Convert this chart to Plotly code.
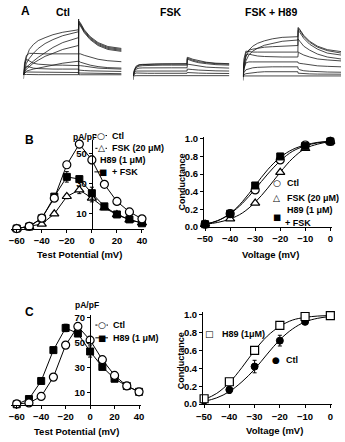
import plotly.graph_objects as go

W, H = 345, 442
FONT = "Liberation Sans, Arial, sans-serif"
SYM = "DejaVu Sans"

# ---------------- Panel A: current traces (time index, amplitude) ----------------
a_time = [0, 1, 3, 6, 10, 15, 22, 30, 40, 56, 56.2, 56.5, 58, 62, 68, 76, 86, 100]
a_ctl = [
    [-4, 8, 18, 26, 31, 35, 38, 41, 43.5, 46, 55, 55, 53, 46, 39, 33, 29, 27],
    [0, 6, 12, 17, 22, 27, 32, 36, 40, 44, 54, 54, 52, 45, 38, 32, 28, 26],
    [0, 4, 8, 11, 14, 18, 23, 28, 33, 38, 53, 53, 51, 44, 37, 31, 27, 25],
    [0, 3, 6, 9, 12, 15, 19, 22, 26, 30, 52, 52, 50, 43, 36, 30, 26, 24],
    [0, 12, 20, 22, 22, 21.5, 21.5, 21.5, 21.5, 21.5, 22, 22, 21.5, 20, 18, 16, 14.5, 13.5],
    [0, 2, 4, 5, 6, 7, 8.5, 10, 12, 14, 14, 14, 13, 11.5, 10, 8.5, 7.5, 7],
    [0, 10, 16, 14, 12, 11, 10.5, 10, 10, 10, 10, 10, 9.5, 9, 8, 7, 6.5, 6],
    [0, 6, 9, 8, 7, 6.5, 6, 6, 6, 6, 5, 5, 4.8, 4.5, 4.2, 4, 3.8, 3.6],
    [0, 2, 3, 3, 2.8, 2.6, 2.5, 2.5, 2.5, 2.5, 2, 2, 1.9, 1.8, 1.6, 1.5, 1.4, 1.3],
    [0, 0.5, 0.5, 0.3, 0.3, 0.3, 0.3, 0.3, 0.3, 0.3, 57, 0.2, 0.2, 0.2, 0.2, 0.2, 0.2, 0.2],
]
a_fsk = [
    [-4, 5, 9, 11, 11.5, 12, 12.2, 12.4, 12.5, 12.6, 19, 19, 18.5, 17, 15.5, 14, 13, 12.5],
    [0, 5, 8.5, 10, 10.5, 10.8, 11, 11, 11, 11, 17, 17, 16.5, 15, 13.5, 12.5, 11.5, 11],
    [0, 6, 10, 11.5, 11.8, 12, 12, 12, 12, 12, 18, 18, 17.5, 16, 14.5, 13.5, 12.5, 12],
    [0, 4, 7, 8, 8.2, 8.3, 8.3, 8.3, 8.3, 8.3, 12, 12, 11.8, 11, 10, 9, 8.5, 8],
    [0, 3, 5, 5, 5, 5, 5, 5, 5, 5, 7, 7, 6.8, 6.5, 6, 5.5, 5.2, 5],
    [0, 2, 3, 2.8, 2.7, 2.7, 2.7, 2.7, 2.7, 2.7, 3.5, 3.5, 3.3, 3.1, 2.9, 2.7, 2.6, 2.5],
    [0, 0.3, 0.3, 0.3, 0.3, 0.3, 0.3, 0.3, 0.3, 0.3, 0.3, 0.3, 0.3, 0.3, 0.3, 0.3, 0.3, 0.3],
]
a_h89 = [
    [-4, 10, 20, 27, 31, 34, 36.5, 38.5, 40, 40.7, 50, 50, 48, 42, 36, 31, 27.5, 25.5],
    [0, 8, 16, 22, 26, 29, 32, 34, 36, 37.3, 49, 49, 47, 41, 35, 30, 26.5, 24],
    [0, 14, 24, 27, 28, 29, 30, 30.5, 31, 31.7, 47, 47, 45, 39, 33, 28, 24, 22],
    [0, 18, 26, 25.5, 25, 25, 25, 25, 25, 25, 38, 38, 36, 31, 27, 23, 20, 18],
    [0, 12, 22, 23, 22, 21, 20.5, 20, 20, 20, 25, 25, 24, 22, 20, 18, 17, 16],
    [0, 8, 14, 15, 15, 15, 15, 15, 15, 15, 14, 14, 13.5, 13, 12, 11, 10.5, 10],
    [0, 4, 7, 8, 9, 9.5, 10, 10, 10, 10, 8, 8, 7, 6, 5.5, 5, 4.7, 4.5],
    [0, 2, 3, 3.5, 4, 4.5, 5, 5, 5, 5, 3.5, 3.5, 3, 3, 2.8, 2.6, 2.5, 2.5],
    [0, 0.7, 0.7, 0.7, 0.7, 0.7, 0.7, 0.7, 0.7, 0.7, 0.7, 0.7, 0.7, 0.7, 0.7, 0.7, 0.7, 0.7],
]

# ---------------- Panel B ----------------
iv_v = [-60, -50, -40, -30, -20, -10, 0, 10, 20, 30, 40]
b_ctl = [0.2, 1.7, 7.2, 20.5, 42.8, 56.6, 46.0, 29.7, 18.3, 11.3, 6.7]
b_ctl_err = [0, 0, 0.5, 1.0, 2.0, 2.5, 2.5, 1.0, 0.5, 0.5, 0.5]
b_fsk = [0.2, 1.5, 3.2, 10.0, 21.6, 26.0, 20.5, 14.0, 9.5, 6.0, 4.0]
b_fsk_err = [0, 0, 0.5, 1.0, 1.5, 2.5, 2.5, 1.0, 0.5, 0.5, 0.5]
b_h89 = [0.2, 1.5, 7.0, 21.5, 34.7, 33.2, 23.8, 15.0, 9.6, 6.3, 3.7]
b_h89_err = [0, 0, 0.5, 1.0, 3.5, 2.0, 4.0, 1.0, 0.5, 0.5, 0.5]

g_v = [-50, -40, -30, -20, -10, 0]
gb_ctl = [0.03, 0.15, 0.42, 0.76, 0.93, 0.97]
gb_fsk = [0.03, 0.09, 0.27, 0.62, 0.89, 0.97]
gb_h89 = [0.03, 0.15, 0.47, 0.80, 0.92, 0.97]
fit_v = [-50, -45, -40, -35, -30, -25, -20, -15, -10, -5, 0]
fitb_ctl = [0.03, 0.07, 0.15, 0.27, 0.43, 0.60, 0.75, 0.86, 0.92, 0.955, 0.97]
fitb_fsk = [0.03, 0.05, 0.09, 0.16, 0.28, 0.44, 0.62, 0.78, 0.89, 0.94, 0.97]
fitb_h89 = [0.03, 0.07, 0.15, 0.29, 0.47, 0.65, 0.79, 0.88, 0.93, 0.96, 0.97]

# ---------------- Panel C ----------------
c_ctl = [0.8, 1.6, 6.8, 22.3, 48.0, 63.0, 52.0, 36.3, 23.7, 15.2, 10.5]
c_ctl_err = [0, 0, 0.5, 1.0, 2.0, 2.0, 2.0, 1.0, 1.0, 0.5, 0.5]
c_h89 = [0.5, 4.7, 19.2, 44.0, 61.8, 57.3, 42.9, 30.5, 21.0, 15.2, 10.5]
c_h89_err = [0, 0.5, 1.0, 2.0, 3.0, 2.0, 4.5, 2.0, 1.0, 0.5, 0.5]

gc_h89 = [0.06, 0.25, 0.60, 0.88, 0.98, 0.99]
gc_h89_err = [0, 0.02, 0.02, 0.02, 0.01, 0]
gc_ctl = [0.04, 0.16, 0.42, 0.71, 0.92, 0.99]
gc_ctl_err = [0, 0.04, 0.07, 0.06, 0.03, 0]
fitc_h89 = [0.05, 0.12, 0.24, 0.41, 0.60, 0.76, 0.87, 0.94, 0.97, 0.985, 0.99]
fitc_ctl = [0.03, 0.07, 0.14, 0.25, 0.39, 0.56, 0.72, 0.84, 0.92, 0.96, 0.98]


def px_x(a, b):
    return [a / W, b / W]


def px_y(top, bottom):
    return [1 - bottom / H, 1 - top / H]


fig = go.Figure()

OPEN_CIRCLE = dict(symbol="circle", size=8, color="white", line=dict(color="black", width=1.2))
OPEN_TRI = dict(symbol="triangle-up", size=8, color="white", line=dict(color="black", width=1.2))
FILL_SQ = dict(symbol="square", size=7, color="black", line=dict(color="black", width=1))
OPEN_SQ = dict(symbol="square", size=8, color="white", line=dict(color="black", width=1.2))
FILL_CIRCLE = dict(symbol="circle", size=7, color="black", line=dict(color="black", width=1))


def err(arr):
    return dict(type="data", array=arr, visible=True, color="black", thickness=1, width=2)


# Panel A traces
for xa, ya, traces in (("x7", "y7", a_ctl), ("x8", "y8", a_fsk), ("x9", "y9", a_h89)):
    for tr in traces:
        fig.add_trace(go.Scatter(x=a_time, y=tr, mode="lines", xaxis=xa, yaxis=ya,
                                 line=dict(color="#1a1a1a", width=0.8), showlegend=False,
                                 hoverinfo="skip"))

# Panel B left
for ys, e, mk in ((b_fsk, b_fsk_err, OPEN_TRI), (b_h89, b_h89_err, FILL_SQ), (b_ctl, b_ctl_err, OPEN_CIRCLE)):
    fig.add_trace(go.Scatter(x=iv_v, y=ys, mode="lines+markers", xaxis="x", yaxis="y",
                             line=dict(color="black", width=1), marker=mk, error_y=err(e),
                             cliponaxis=False, showlegend=False))

# Panel B right
for fy in (fitb_ctl, fitb_fsk, fitb_h89):
    fig.add_trace(go.Scatter(x=fit_v, y=fy, mode="lines", xaxis="x2", yaxis="y2",
                             line=dict(color="black", width=1, shape="spline"), showlegend=False))
for ys, mk in ((gb_fsk, OPEN_TRI), (gb_ctl, OPEN_CIRCLE), (gb_h89, FILL_SQ)):
    fig.add_trace(go.Scatter(x=g_v, y=ys, mode="markers", xaxis="x2", yaxis="y2",
                             marker=mk, cliponaxis=False, showlegend=False))

# Panel C left
for ys, e, mk in ((c_h89, c_h89_err, FILL_SQ), (c_ctl, c_ctl_err, OPEN_CIRCLE)):
    fig.add_trace(go.Scatter(x=iv_v, y=ys, mode="lines+markers", xaxis="x3", yaxis="y3",
                             line=dict(color="black", width=1), marker=mk, error_y=err(e),
                             cliponaxis=False, showlegend=False))

# Panel C right
for fy in (fitc_h89, fitc_ctl):
    fig.add_trace(go.Scatter(x=fit_v, y=fy, mode="lines", xaxis="x4", yaxis="y4",
                             line=dict(color="black", width=1, shape="spline"), showlegend=False))
fig.add_trace(go.Scatter(x=g_v, y=gc_ctl, mode="markers", xaxis="x4", yaxis="y4",
                         marker=FILL_CIRCLE, error_y=err(gc_ctl_err), cliponaxis=False, showlegend=False))
fig.add_trace(go.Scatter(x=g_v, y=gc_h89, mode="markers", xaxis="x4", yaxis="y4",
                         marker=OPEN_SQ, error_y=err(gc_h89_err), cliponaxis=False, showlegend=False))

TICKFONT = dict(family=FONT, size=9.5, color="black", weight="bold")
AX = dict(showgrid=False, zeroline=False, showline=True, linecolor="black", linewidth=1.3,
          ticks="outside", ticklen=3, tickwidth=1, tickcolor="black", tickfont=TICKFONT)
HID = dict(visible=False, showgrid=False, zeroline=False)

layout = dict(
    width=W, height=H, margin=dict(l=0, r=0, t=0, b=0),
    paper_bgcolor="white", plot_bgcolor="rgba(0,0,0,0)", showlegend=False,
    # B left
    xaxis=dict(AX, domain=px_x(4, 141), range=[-64.65, 41.55], anchor="y",
               tickvals=[-60, -40, -20, 0, 20, 40]),
    yaxis=dict(AX, domain=px_y(140, 230), range=[0, 59], anchor="free", position=87.4 / W,
               tickvals=[10, 30, 50]),
    # B right
    xaxis2=dict(AX, domain=px_x(203, 335), range=[-50.39, 0.78], anchor="y2",
                tickvals=[-50, -40, -30, -20, -10, 0]),
    yaxis2=dict(AX, domain=px_y(136, 228), range=[0, 1.026], anchor="x2",
                tickvals=[0, 0.2, 0.4, 0.6, 0.8, 1.0], tickformat=".1f"),
    # C left
    xaxis3=dict(AX, domain=px_x(4, 138), range=[-64.76, 41.6], anchor="y3",
                tickvals=[-60, -40, -20, 0, 20, 40]),
    yaxis3=dict(AX, domain=px_y(318, 409.3), range=[0, 72], anchor="free", position=85.6 / W,
                tickvals=[10, 30, 50, 70]),
    # C right
    xaxis4=dict(AX, domain=px_x(202, 335), range=[-50.38, 0.77], anchor="y4",
                tickvals=[-50, -40, -30, -20, -10, 0]),
    yaxis4=dict(AX, domain=px_y(315, 408.5), range=[0, 1.027], anchor="x4",
                tickvals=[0, 0.2, 0.4, 0.6, 0.8, 1.0], tickformat=".1f"),
    # A
    xaxis7=dict(HID, domain=px_x(17, 118), range=[0, 100], anchor="y7"),
    yaxis7=dict(HID, domain=px_y(12, 79.8), range=[-6.5, 61.3], anchor="x7"),
    xaxis8=dict(HID, domain=px_x(130, 229), range=[0, 100], anchor="y8"),
    yaxis8=dict(HID, domain=px_y(12, 80.8), range=[-6.5, 62.3], anchor="x8"),
    xaxis9=dict(HID, domain=px_x(243, 344), range=[0, 100], anchor="y9"),
    yaxis9=dict(HID, domain=px_y(12, 81.5), range=[-6.5, 63.0], anchor="x9"),
)
fig.update_layout(**layout)

annotations = []
shapes = []


def txt(x, y, s, size=9, xanchor="center", angle=0, family=FONT, bold=True, bg=None):
    d = dict(x=x / W, y=1 - y / H, xref="paper", yref="paper", text=s, showarrow=False,
             xanchor=xanchor, yanchor="middle", textangle=angle,
             font=dict(family=family, size=size, color="black", weight="bold" if bold else "normal"))
    if bg:
        d.update(bgcolor=bg, borderpad=0)
    annotations.append(d)


def line_px(x0, x1, y):
    shapes.append(dict(type="line", xref="paper", yref="paper", x0=x0 / W, x1=x1 / W,
                       y0=1 - y / H, y1=1 - y / H, line=dict(color="black", width=1)))


SQ_SPAN = "<span style='font-family:DejaVu Sans;font-weight:normal;font-size:8.5px'>■</span>"

# Panel A labels
txt(19, 8, "A", size=12)
txt(58, 9, "Ctl", size=10.5)
txt(168, 9, "FSK", size=10.5)
txt(272, 9, "FSK + H89", size=10.5)

# Panel B left
txt(23, 140, "B", size=12)
txt(80, 136, "pA/pF", size=8.5)
txt(75, 256, "Test Potential (mV)", size=9.5)
line_px(91, 103, 135)
txt(97, 135, "○", size=9, family=SYM, bold=False, bg="white")
txt(106, 135, "Ctl", xanchor="left")
line_px(91, 103, 148)
txt(97, 148, "△", size=9, family=SYM, bold=False, bg="white")
txt(106, 148, "FSK (20 μM)", xanchor="left")
txt(94, 160, "H89 (1 μM)", xanchor="left")
line_px(90, 102, 172)
txt(93, 172, SQ_SPAN + "  + FSK", xanchor="left")

# Panel B right
txt(180, 182, "Conductance", size=9, angle=-90)
txt(271, 256, "Voltage (mV)", size=9.5)
txt(278, 183, "○", size=9, family=SYM, bold=False)
txt(286, 183, "Ctl", xanchor="left")
txt(278, 199, "△", size=9, family=SYM, bold=False)
txt(286, 199, "FSK (20 μM)", xanchor="left")
txt(286, 211, "H89 (1 μM)", xanchor="left")
txt(278, 218, "■", size=8.5, family=SYM, bold=False)
txt(284, 224, "+ FSK", xanchor="left")

# Panel C left
txt(23, 315, "C", size=12)
txt(82, 308, "pA/pF", size=8.5)
txt(72, 436, "Test Potential (mV)", size=9.5)
line_px(91, 104, 328)
txt(97.5, 328, "○", size=9, family=SYM, bold=False, bg="white")
txt(107, 328, "Ctl", xanchor="left")
line_px(91, 104, 341)
txt(98, 341, "■", size=8.5, family=SYM, bold=False)
txt(107, 341, "H89 (1 μM)", xanchor="left")

# Panel C right
txt(180, 364, "Conductance", size=9, angle=-90)
txt(275, 435, "Voltage (mV)", size=9.5)
txt(209, 337, "□", size=9, family=SYM, bold=False)
txt(219, 337, "H89 (1μM)", xanchor="left")
txt(277, 364, "●", size=9, family=SYM, bold=False)
txt(285, 364, "Ctl", xanchor="left")

fig.update_layout(annotations=annotations, shapes=shapes)
fig.write_html("out.html")
